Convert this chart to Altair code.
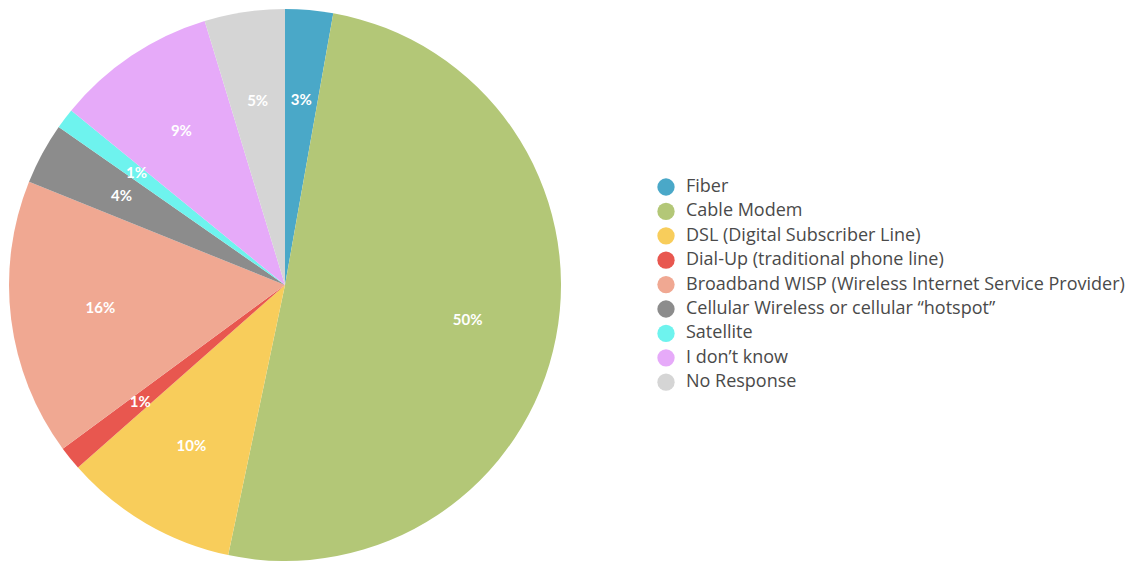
import altair as alt
import pandas as pd

categories = [
    "Fiber",
    "Cable Modem",
    "\u00a0DSL (Digital Subscriber Line)",
    "Dial-Up (traditional phone line)",
    "Broadband WISP (Wireless Internet Service Provider)",
    "Cellular Wireless or cellular \u201chotspot\u201d",
    "Satellite",
    "I don\u2019t know",
    "No Response",
]
values = [2.8, 50.5, 10.2, 1.4, 16.2, 3.6, 1.2, 9.4, 4.7]
labels = ["3%", "50%", "10%", "1%", "16%", "4%", "1%", "9%", "5%"]
colors = ["#4aa8c8", "#b3c777", "#f8cd5b", "#e8574f", "#f0a892",
          "#8c8c8c", "#6ef3ee", "#e6aaf9", "#d5d5d5"]

df = pd.DataFrame({
    "category": categories,
    "value": values,
    "label": labels,
    "order": list(range(len(categories))),
})

cx, cy, R = 285, 285, 276

base = alt.Chart(df).encode(
    theta=alt.Theta("value:Q", stack=True),
    order=alt.Order("order:Q"),
    x=alt.value(cx),
    y=alt.value(cy),
)

arcs = base.mark_arc(radius=R).encode(
    color=alt.Color(
        "category:N",
        scale=alt.Scale(domain=categories, range=colors),
        legend=alt.Legend(
            title=None,
            orient="none",
            legendX=657,
            legendY=178,
            symbolType="circle",
            symbolSize=300,
            symbolStrokeWidth=0,
            labelFont="Open Sans",
            labelFontSize=18,
            labelColor="#4a4a4a",
            labelLimit=600,
            labelOffset=11,
            rowPadding=6.4,
            padding=0,
        ),
    )
)

text = base.mark_text(
    radius=186,
    font="Lato",
    fontSize=15,
    fontWeight="bold",
    color="white",
).encode(text="label:N")

chart = (
    alt.layer(arcs, text)
    .properties(width=1132, height=562, padding=0, autosize="none")
    .configure_view(stroke=None)
)

chart.save("out.html", embed_options={"renderer": "svg", "actions": False})
